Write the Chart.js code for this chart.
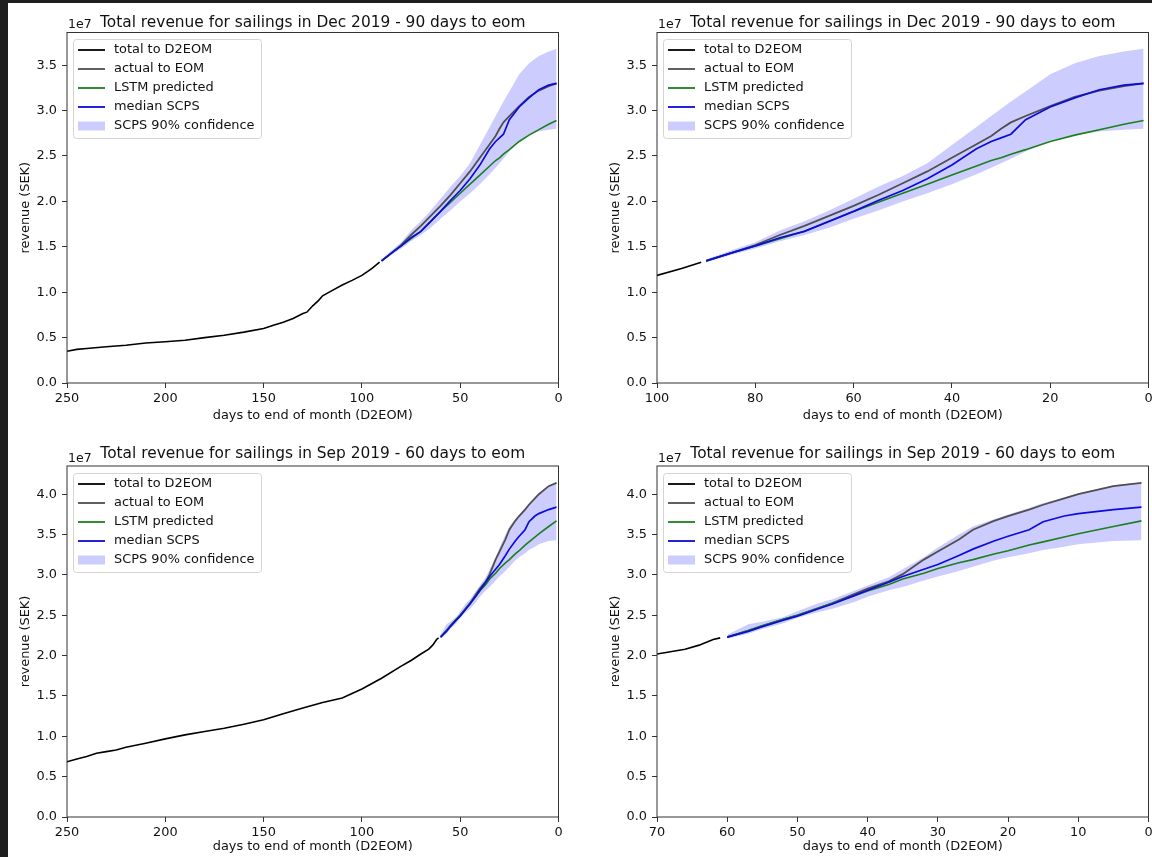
<!DOCTYPE html>
<html>
<head>
<meta charset="utf-8">
<title>Total revenue for sailings</title>
<script src="https://cdn.jsdelivr.net/npm/chart.js@4.4.0/dist/chart.umd.min.js"></script>
<style>
html, body { margin: 0; padding: 0; background: #1e1e1e; overflow: hidden; }
#page { position: relative; width: 1152px; height: 857px; overflow: hidden; background: #1e1e1e; }
#sheet { position: absolute; left: 8px; top: 3px; right: 0; bottom: 0; background: #fff; }
canvas { position: absolute; }
</style>
</head>
<body>
<div id="page">
  <div id="sheet"></div>
  <canvas id="decWide" width="580" height="420" style="left:8px;top:3px"></canvas>
  <canvas id="decZoom" width="580" height="420" style="left:598px;top:3px"></canvas>
  <canvas id="sepWide" width="580" height="420" style="left:8px;top:437px"></canvas>
  <canvas id="sepZoom" width="580" height="420" style="left:598px;top:437px"></canvas>
</div>
<script>
// revenue values are in units of 1e7 SEK, days = days to end of month

// Dec 2019, history up to 90 days before eom
const decHistDays = [250, 245, 240, 230, 220, 210, 200, 190, 180, 170, 160, 150, 145, 140, 135, 130, 128, 125, 122, 120, 115, 110, 105, 100, 95, 91];
const decHistRev  = [0.35, 0.37, 0.38, 0.40, 0.415, 0.44, 0.455, 0.47, 0.50, 0.525, 0.56, 0.60, 0.635, 0.67, 0.71, 0.765, 0.78, 0.85, 0.91, 0.96, 1.02, 1.08, 1.13, 1.185, 1.26, 1.33];

// Dec 2019, forecast part
const decFcDays = [90, 85, 80, 75, 70, 65, 60, 55, 50, 45, 40, 35, 32, 30, 28, 25, 20, 15, 10, 5, 1];
const decActual = [1.345, 1.43, 1.52, 1.63, 1.73, 1.84, 1.95, 2.07, 2.20, 2.33, 2.48, 2.63, 2.72, 2.80, 2.87, 2.94, 3.05, 3.15, 3.22, 3.27, 3.30];
const decLstm   = [1.345, 1.43, 1.51, 1.59, 1.67, 1.78, 1.89, 1.99, 2.09, 2.19, 2.29, 2.39, 2.45, 2.48, 2.52, 2.57, 2.66, 2.73, 2.79, 2.85, 2.89];
const decMedian = [1.345, 1.43, 1.51, 1.60, 1.67, 1.78, 1.89, 2.01, 2.12, 2.25, 2.40, 2.58, 2.66, 2.70, 2.74, 2.90, 3.04, 3.14, 3.23, 3.28, 3.30];
const decLower  = [1.33, 1.41, 1.48, 1.56, 1.63, 1.71, 1.81, 1.90, 2.00, 2.09, 2.19, 2.30, 2.37, 2.42, 2.47, 2.55, 2.67, 2.73, 2.77, 2.79, 2.80];
const decUpper  = [1.36, 1.46, 1.55, 1.68, 1.78, 1.90, 2.03, 2.16, 2.28, 2.42, 2.62, 2.82, 2.94, 3.02, 3.10, 3.21, 3.40, 3.52, 3.60, 3.65, 3.68];

// Sep 2019, history up to 60 days before eom
const sepHistDays = [250, 245, 240, 235, 230, 225, 220, 210, 200, 190, 180, 170, 160, 150, 140, 130, 120, 110, 100, 90, 80, 75, 70, 66, 64, 62, 61];
const sepHistRev  = [0.685, 0.72, 0.75, 0.79, 0.81, 0.83, 0.864, 0.914, 0.968, 1.018, 1.06, 1.10, 1.15, 1.205, 1.28, 1.35, 1.42, 1.475, 1.587, 1.72, 1.87, 1.94, 2.02, 2.08, 2.13, 2.20, 2.22];

// Sep 2019, forecast part
const sepFcDays = [60, 57, 55, 52, 50, 47, 45, 42, 40, 37, 35, 32, 30, 27, 25, 22, 20, 17, 15, 12, 10, 5, 1];
const sepActual = [2.23, 2.31, 2.37, 2.45, 2.50, 2.59, 2.65, 2.76, 2.83, 2.92, 3.01, 3.19, 3.29, 3.44, 3.56, 3.67, 3.73, 3.81, 3.87, 3.95, 4.00, 4.10, 4.14];
const sepLstm   = [2.23, 2.31, 2.37, 2.45, 2.50, 2.59, 2.65, 2.74, 2.80, 2.88, 2.95, 3.02, 3.08, 3.15, 3.19, 3.26, 3.30, 3.37, 3.41, 3.47, 3.51, 3.60, 3.67];
const sepMedian = [2.23, 2.30, 2.36, 2.44, 2.49, 2.58, 2.64, 2.74, 2.81, 2.91, 2.98, 3.07, 3.13, 3.24, 3.32, 3.42, 3.48, 3.56, 3.66, 3.73, 3.76, 3.81, 3.84];
const sepLower  = [2.21, 2.27, 2.33, 2.40, 2.47, 2.54, 2.58, 2.66, 2.73, 2.81, 2.85, 2.93, 2.98, 3.05, 3.10, 3.18, 3.22, 3.27, 3.31, 3.35, 3.38, 3.42, 3.43];
const sepUpper  = [2.26, 2.39, 2.42, 2.48, 2.55, 2.65, 2.70, 2.80, 2.87, 2.97, 3.07, 3.22, 3.34, 3.50, 3.60, 3.69, 3.75, 3.83, 3.89, 3.96, 4.01, 4.11, 4.15];

const legendLabels = ['total to D2EOM', 'actual to EOM', 'LSTM predicted', 'median SCPS', 'SCPS 90% confidence'];
const decTitle = 'Total revenue for sailings in Dec 2019 - 90 days to eom';
const sepTitle = 'Total revenue for sailings in Sep 2019 - 60 days to eom';

const C_TOTAL = '#000000';
const C_ACTUAL = '#4f4f4f';
const C_LSTM = '#1b7f1b';
const C_MEDIAN = '#0b0bdc';
const C_BAND = 'rgba(0,0,255,0.2)';
const FONT = "'DejaVu Sans', sans-serif";

Chart.defaults.font.family = FONT;
Chart.defaults.font.size = 12.9;
Chart.defaults.color = '#111';

function pts(days, vals) {
    return days.map(function(d, i) { return {x: d, y: vals[i]}; });
}

// spines, title, 1e7 offset text and a matplotlib-like legend
const panelDecor = {
    id: 'panelDecor',
    afterDraw: function(chart, args, o) {
        const ctx = chart.ctx;
        const a = chart.chartArea;
        ctx.save();
        ctx.strokeStyle = '#333';
        ctx.lineWidth = 1;
        ctx.strokeRect(a.left, a.top, a.right - a.left, a.bottom - a.top);

        ctx.fillStyle = '#111';
        ctx.textBaseline = 'alphabetic';
        ctx.textAlign = 'left';
        ctx.font = '12.5px ' + FONT;
        ctx.fillText('1e7', a.left + 1, a.top - 4.5);
        ctx.font = '15.4px ' + FONT;
        ctx.textAlign = 'center';
        ctx.fillText(o.title, (a.left + a.right) / 2, a.top - o.titleGap);

        // legend box
        const bx = a.left + 6, by = a.top + o.legendTop;
        ctx.beginPath();
        ctx.roundRect(bx + 0.5, by + 0.5, 188, 99, 3);
        ctx.fillStyle = 'rgba(255,255,255,0.8)';
        ctx.fill();
        ctx.strokeStyle = '#d4d4d4';
        ctx.stroke();

        const colors = [C_TOTAL, C_ACTUAL, C_LSTM, C_MEDIAN];
        ctx.font = '12.9px ' + FONT;
        ctx.textAlign = 'left';
        ctx.textBaseline = 'middle';
        legendLabels.forEach(function(label, i) {
            const y = by + 11 + i * 19;
            if (i < 4) {
                ctx.strokeStyle = colors[i];
                ctx.lineWidth = 1.8;
                ctx.beginPath();
                ctx.moveTo(a.left + 11, y);
                ctx.lineTo(a.left + 38, y);
                ctx.stroke();
            } else {
                ctx.fillStyle = C_BAND;
                ctx.fillRect(a.left + 11, y - 4.5, 27, 9);
            }
            ctx.fillStyle = '#111';
            ctx.fillText(label, a.left + 47, y);
        });
        ctx.restore();
    }
};

function makePanel(id, s, xMax, xStep, yMax, title, row) {
    const top = row === 0 ? 29.5 : 29;
    new Chart(document.getElementById(id).getContext('2d'), {
        type: 'line',
        data: {
            datasets: [
                { label: 'median SCPS', data: pts(s.fcDays, s.median), borderColor: C_MEDIAN, borderWidth: 1.7 },
                { label: 'LSTM predicted', data: pts(s.fcDays, s.lstm), borderColor: C_LSTM, borderWidth: 1.6 },
                { label: 'actual to EOM', data: pts(s.fcDays, s.actual), borderColor: C_ACTUAL, borderWidth: 1.8 },
                { label: 'total to D2EOM', data: pts(s.histDays, s.hist), borderColor: C_TOTAL, borderWidth: 1.6 },
                { label: 'lower', data: pts(s.fcDays, s.lower), borderWidth: 0, borderColor: 'transparent', fill: false },
                { label: 'SCPS 90% confidence', data: pts(s.fcDays, s.upper), borderWidth: 0, borderColor: 'transparent', backgroundColor: C_BAND, fill: '-1' }
            ]
        },
        options: {
            responsive: false,
            animation: false,
            events: [],
            elements: { point: { radius: 0 }, line: { tension: 0 } },
            layout: { padding: { top: top, right: 29.5, left: 5.5, bottom: 0 } },
            plugins: {
                legend: { display: false },
                tooltip: { enabled: false },
                panelDecor: { title: title, titleGap: row === 0 ? 6 : 7.7, legendTop: row === 0 ? 6.5 : 7 }
            },
            scales: {
                x: {
                    type: 'linear',
                    min: 0,
                    max: xMax,
                    reverse: true,
                    afterFit: function(sc) { sc.height = 40; },
                    border: { display: false },
                    grid: { drawOnChartArea: false, drawTicks: true, tickLength: 5, tickColor: '#333' },
                    ticks: { stepSize: xStep, autoSkip: false, maxRotation: 0, padding: 3, includeBounds: false },
                    title: { display: true, text: 'days to end of month (D2EOM)', padding: { top: 0, bottom: row === 0 ? 0 : 2.5 } }
                },
                y: {
                    type: 'linear',
                    min: 0,
                    max: yMax,
                    afterFit: function(sc) { sc.width = 53.5; },
                    border: { display: false },
                    grid: { drawOnChartArea: false, drawTicks: true, tickLength: 5, tickColor: '#333' },
                    ticks: { stepSize: 0.5, includeBounds: false, padding: 5, callback: function(v) { return v.toFixed(1); } },
                    title: { display: true, text: 'revenue (SEK)', padding: { top: 4, bottom: 4 } }
                }
            }
        },
        plugins: [panelDecor]
    });
}

const dec = { histDays: decHistDays, hist: decHistRev, fcDays: decFcDays, actual: decActual, lstm: decLstm, median: decMedian, lower: decLower, upper: decUpper };
const sep = { histDays: sepHistDays, hist: sepHistRev, fcDays: sepFcDays, actual: sepActual, lstm: sepLstm, median: sepMedian, lower: sepLower, upper: sepUpper };

makePanel('decWide', dec, 250, 50, 3.86, decTitle, 0);
makePanel('decZoom', dec, 100, 20, 3.86, decTitle, 0);
makePanel('sepWide', sep, 250, 50, 4.35, sepTitle, 1);
makePanel('sepZoom', sep, 70, 10, 4.35, sepTitle, 1);
</script>
</body>
</html>
